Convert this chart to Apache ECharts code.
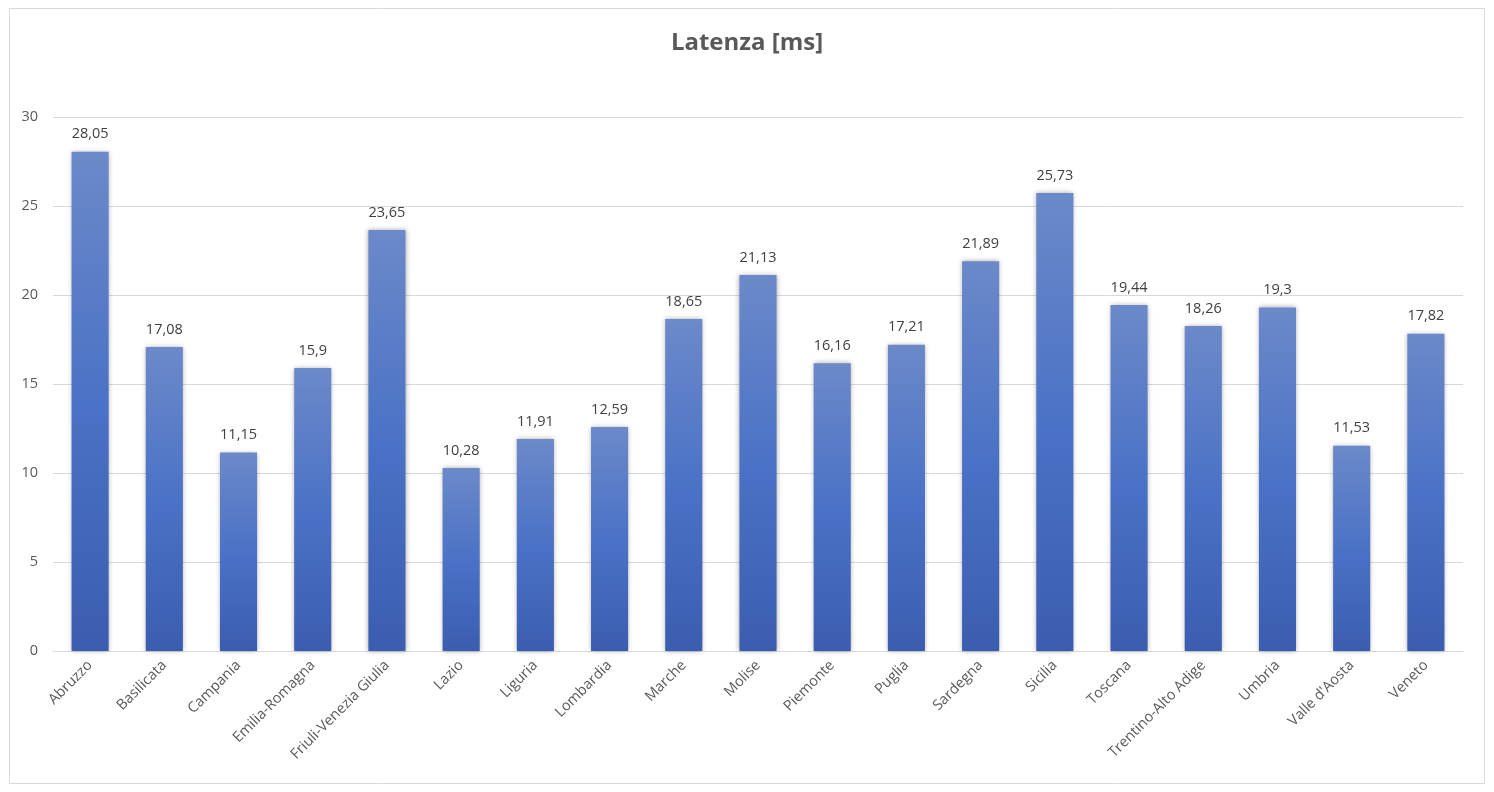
<!DOCTYPE html>
<html>
<head>
<meta charset="utf-8">
<script src="https://cdn.jsdelivr.net/npm/echarts@6/dist/echarts.min.js"></script>
<style>
  html, body { margin: 0; padding: 0; background: #fff; }
  #chart { width: 1494px; height: 792px; }
</style>
</head>
<body>
<div id="chart"></div>
<script>
// regioni e latenza media
var regioni = ['Abruzzo', 'Basilicata', 'Campania', 'Emilia-Romagna', 'Friuli-Venezia Giulia',
  'Lazio', 'Liguria', 'Lombardia', 'Marche', 'Molise', 'Piemonte', 'Puglia', 'Sardegna',
  'Sicilia', 'Toscana', 'Trentino-Alto Adige', 'Umbria', "Valle d'Aosta", 'Veneto'];
var latenza = [28.05, 17.08, 11.15, 15.9, 23.65, 10.28, 11.91, 12.59, 18.65, 21.13,
  16.16, 17.21, 21.89, 25.73, 19.44, 18.26, 19.3, 11.53, 17.82];

var FONT = '"Open Sans", "Noto Sans", sans-serif';

var chart = echarts.init(document.getElementById('chart'));
chart.setOption({
  animation: false,
  textStyle: { fontFamily: FONT },
  title: {
    text: 'Latenza [ms]',
    left: 'center',
    top: 26,
    textStyle: { fontSize: 24, fontWeight: 'bold', color: '#595959', fontFamily: FONT }
  },
  graphic: [{
    type: 'rect',
    shape: { x: 9.5, y: 8.5, width: 1475, height: 775 },
    style: { fill: 'none', stroke: '#d9d9d9', lineWidth: 1 },
    silent: true
  }],
  grid: { left: 53, right: 31, top: 117, bottom: 141 },
  xAxis: {
    type: 'category',
    data: regioni,
    axisTick: { show: false },
    axisLine: { lineStyle: { color: '#d9d9d9', width: 1 } },
    axisLabel: { rotate: 45, fontSize: 14.5, color: '#595959', margin: 12, interval: 0 }
  },
  yAxis: {
    type: 'value',
    min: 0,
    max: 30,
    interval: 5,
    axisLine: { show: false },
    axisTick: { show: false },
    splitLine: { lineStyle: { color: '#d9d9d9', width: 1 } },
    axisLabel: { fontSize: 14.5, color: '#595959', margin: 15 }
  },
  series: [{
    type: 'bar',
    data: latenza,
    barWidth: '50%',
    itemStyle: {
      color: new echarts.graphic.LinearGradient(0, 0, 0, 1, [
        { offset: 0, color: '#6c89c9' },
        { offset: 0.5, color: '#4a72c6' },
        { offset: 1, color: '#3b5db0' }
      ]),
      shadowBlur: 5,
      shadowColor: 'rgba(0,0,0,0.35)'
    },
    label: {
      show: true,
      position: 'top',
      distance: 10,
      fontSize: 14.5,
      color: '#404040',
      formatter: function (p) { return String(p.value).replace('.', ','); }
    }
  }]
});
</script>
</body>
</html>
